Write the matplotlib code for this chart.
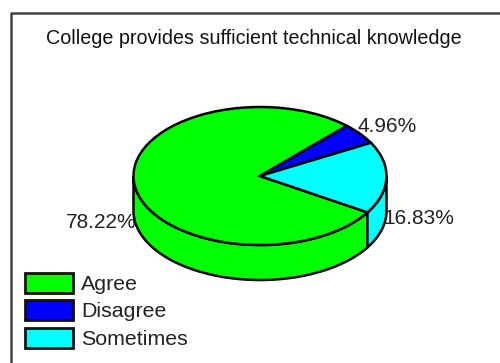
import matplotlib
matplotlib.use("Agg")
import matplotlib.pyplot as plt
from matplotlib.patches import Rectangle
import numpy as np

labels = ["Agree", "Disagree", "Sometimes"]
values = [78.22, 4.96, 16.83]
pct_labels = ["78.22%", "4.96%", "16.83%"]
colors = ["#00ff00", "#0000ff", "#00ffff"]
title = "College provides sufficient technical knowledge"

W, H = 500, 363
plt.rcParams["font.family"] = "Liberation Sans"
fig = plt.figure(figsize=(W / 100, H / 100), dpi=100)

# pie axes fill the figure, ellipse centre at (260,176), rx 126.5, ry 69
cx, cy, rx, ry, depth = 260, 176, 126.5, 69, 35
ax = fig.add_axes([0, 0, 1, 1])
d = depth / ry

start = -31.8
edges = start - np.cumsum([0] + values) * 3.6

# side wall, only the front half shows
for i in range(3):
    for shift in (0, 360):
        a_hi = min(edges[i] + shift, 0)
        a_lo = max(edges[i + 1] + shift, -180)
        if a_hi <= a_lo:
            continue
        t = np.radians(np.linspace(a_lo, a_hi, 80))
        x = np.cos(t)
        y = np.sin(t)
        ax.fill(np.r_[x, x[::-1]], np.r_[y, y[::-1] - d], facecolor=colors[i],
                edgecolor="black", lw=1.8, zorder=1)

ax.pie(values, startangle=start, counterclock=False, colors=colors, radius=1,
       wedgeprops={"edgecolor": "black", "linewidth": 1.8, "zorder": 2})
ax.set_aspect("auto")
ax.set_xlim(-cx / rx, (W - cx) / rx)
ax.set_ylim((cy - H) / ry, cy / ry)
ax.axis("off")

# overlay in pixel coords, for frame, text and legend
bg = fig.add_axes([0, 0, 1, 1], zorder=3)
bg.set_xlim(0, W)
bg.set_ylim(H, 0)
bg.axis("off")
bg.plot([11, 11, 500], [363, 13, 13], color="#444444", lw=1.8, solid_capstyle="butt")
bg.text(254, 38, title, ha="center", va="center", fontsize=14.2, color="#111111")

bg.text(101, 223, pct_labels[0], ha="center", va="center", fontsize=15, color="#222222")
bg.text(387, 127, pct_labels[1], ha="center", va="center", fontsize=15, color="#222222")
bg.text(419, 218, pct_labels[2], ha="center", va="center", fontsize=15, color="#222222")

# legend by hand, keys are wide boxes
for i, lab in enumerate(labels):
    y = 283 + i * 27.3
    bg.add_patch(Rectangle((25, y - 10), 48, 20, facecolor=colors[i], edgecolor="#111111", lw=2))
    bg.text(81, y + 1.5, lab, ha="left", va="center", fontsize=15.4, color="#222222")

fig.savefig("out.png", dpi=100)
